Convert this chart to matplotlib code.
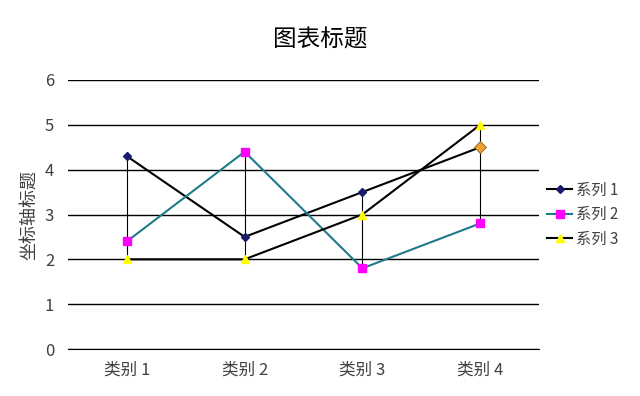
import matplotlib
matplotlib.use("Agg")
import matplotlib.pyplot as plt
import numpy as np

plt.rcParams['font.family'] = ['Noto Sans CJK SC', 'DejaVu Sans']

categorias = ["类别 1", "类别 2", "类别 3", "类别 4"]
series_nombres = ["系列 1", "系列 2", "系列 3"]
serie1 = [4.3, 2.5, 3.5, 4.5]
serie2 = [2.4, 4.4, 1.8, 2.8]
serie3 = [2.0, 2.0, 3.0, 5.0]

fig = plt.figure(figsize=(6.4, 3.96), dpi=100)
ax = fig.add_axes([68/640, 47/396, 471/640, 269/396])

x = np.arange(1, len(categorias) + 1)

# lineas alto-bajo
datos = np.array([serie1, serie2, serie3])
ax.vlines(x, datos.min(axis=0), datos.max(axis=0), color="black", lw=0.8, zorder=2)

l1, = ax.plot(x, serie1, color="black", lw=1.5, marker="D", ms=4.5,
              mfc="#1a1a6e", mec="#1a1a6e", label=series_nombres[0], zorder=3)
l2, = ax.plot(x, serie2, color="#1f7a8c", lw=1.5, marker="s", ms=6,
              mfc="#ff00ff", mec="#ff00ff", label=series_nombres[1], zorder=3)
l3, = ax.plot(x, serie3, color="black", lw=1.5, marker="^", ms=6,
              mfc="#ffff00", mec="#ffff00", label=series_nombres[2], zorder=3)
# punto destacado
ax.plot(x[3], serie1[3], marker="D", ms=6.5, mfc="#f0a030", mec="#806020",
        mew=0.6, zorder=4)

ax.set_xlim(0.5, 4.5)
ax.set_ylim(0, 6)
ax.set_yticks(range(0, 7))
ax.set_xticks(x)
ax.set_xticklabels(categorias)
ax.grid(axis="y", color="black", lw=1)
ax.set_axisbelow(True)
for s in ["top", "right", "left"]:
    ax.spines[s].set_visible(False)
ax.spines["bottom"].set_color("black")
ax.tick_params(axis="y", length=0, pad=10, labelsize=12, labelcolor="#404040")
ax.tick_params(axis="x", length=0, labelsize=12, labelcolor="#404040", pad=9)
ax.set_ylabel("坐标轴标题", fontsize=13, color="#404040", labelpad=5)

fig.text(0.5, 0.9, "图表标题", ha="center", va="center", fontsize=17, color="black")

ax.legend(handles=[l1, l2, l3], loc="center left", bbox_to_anchor=(1.0, 0.5),
          frameon=False, fontsize=11, handlelength=1.6, handletextpad=0.25,
          labelcolor="#404040", borderaxespad=0.15, labelspacing=0.5)

fig.savefig("out.png", dpi=100)
